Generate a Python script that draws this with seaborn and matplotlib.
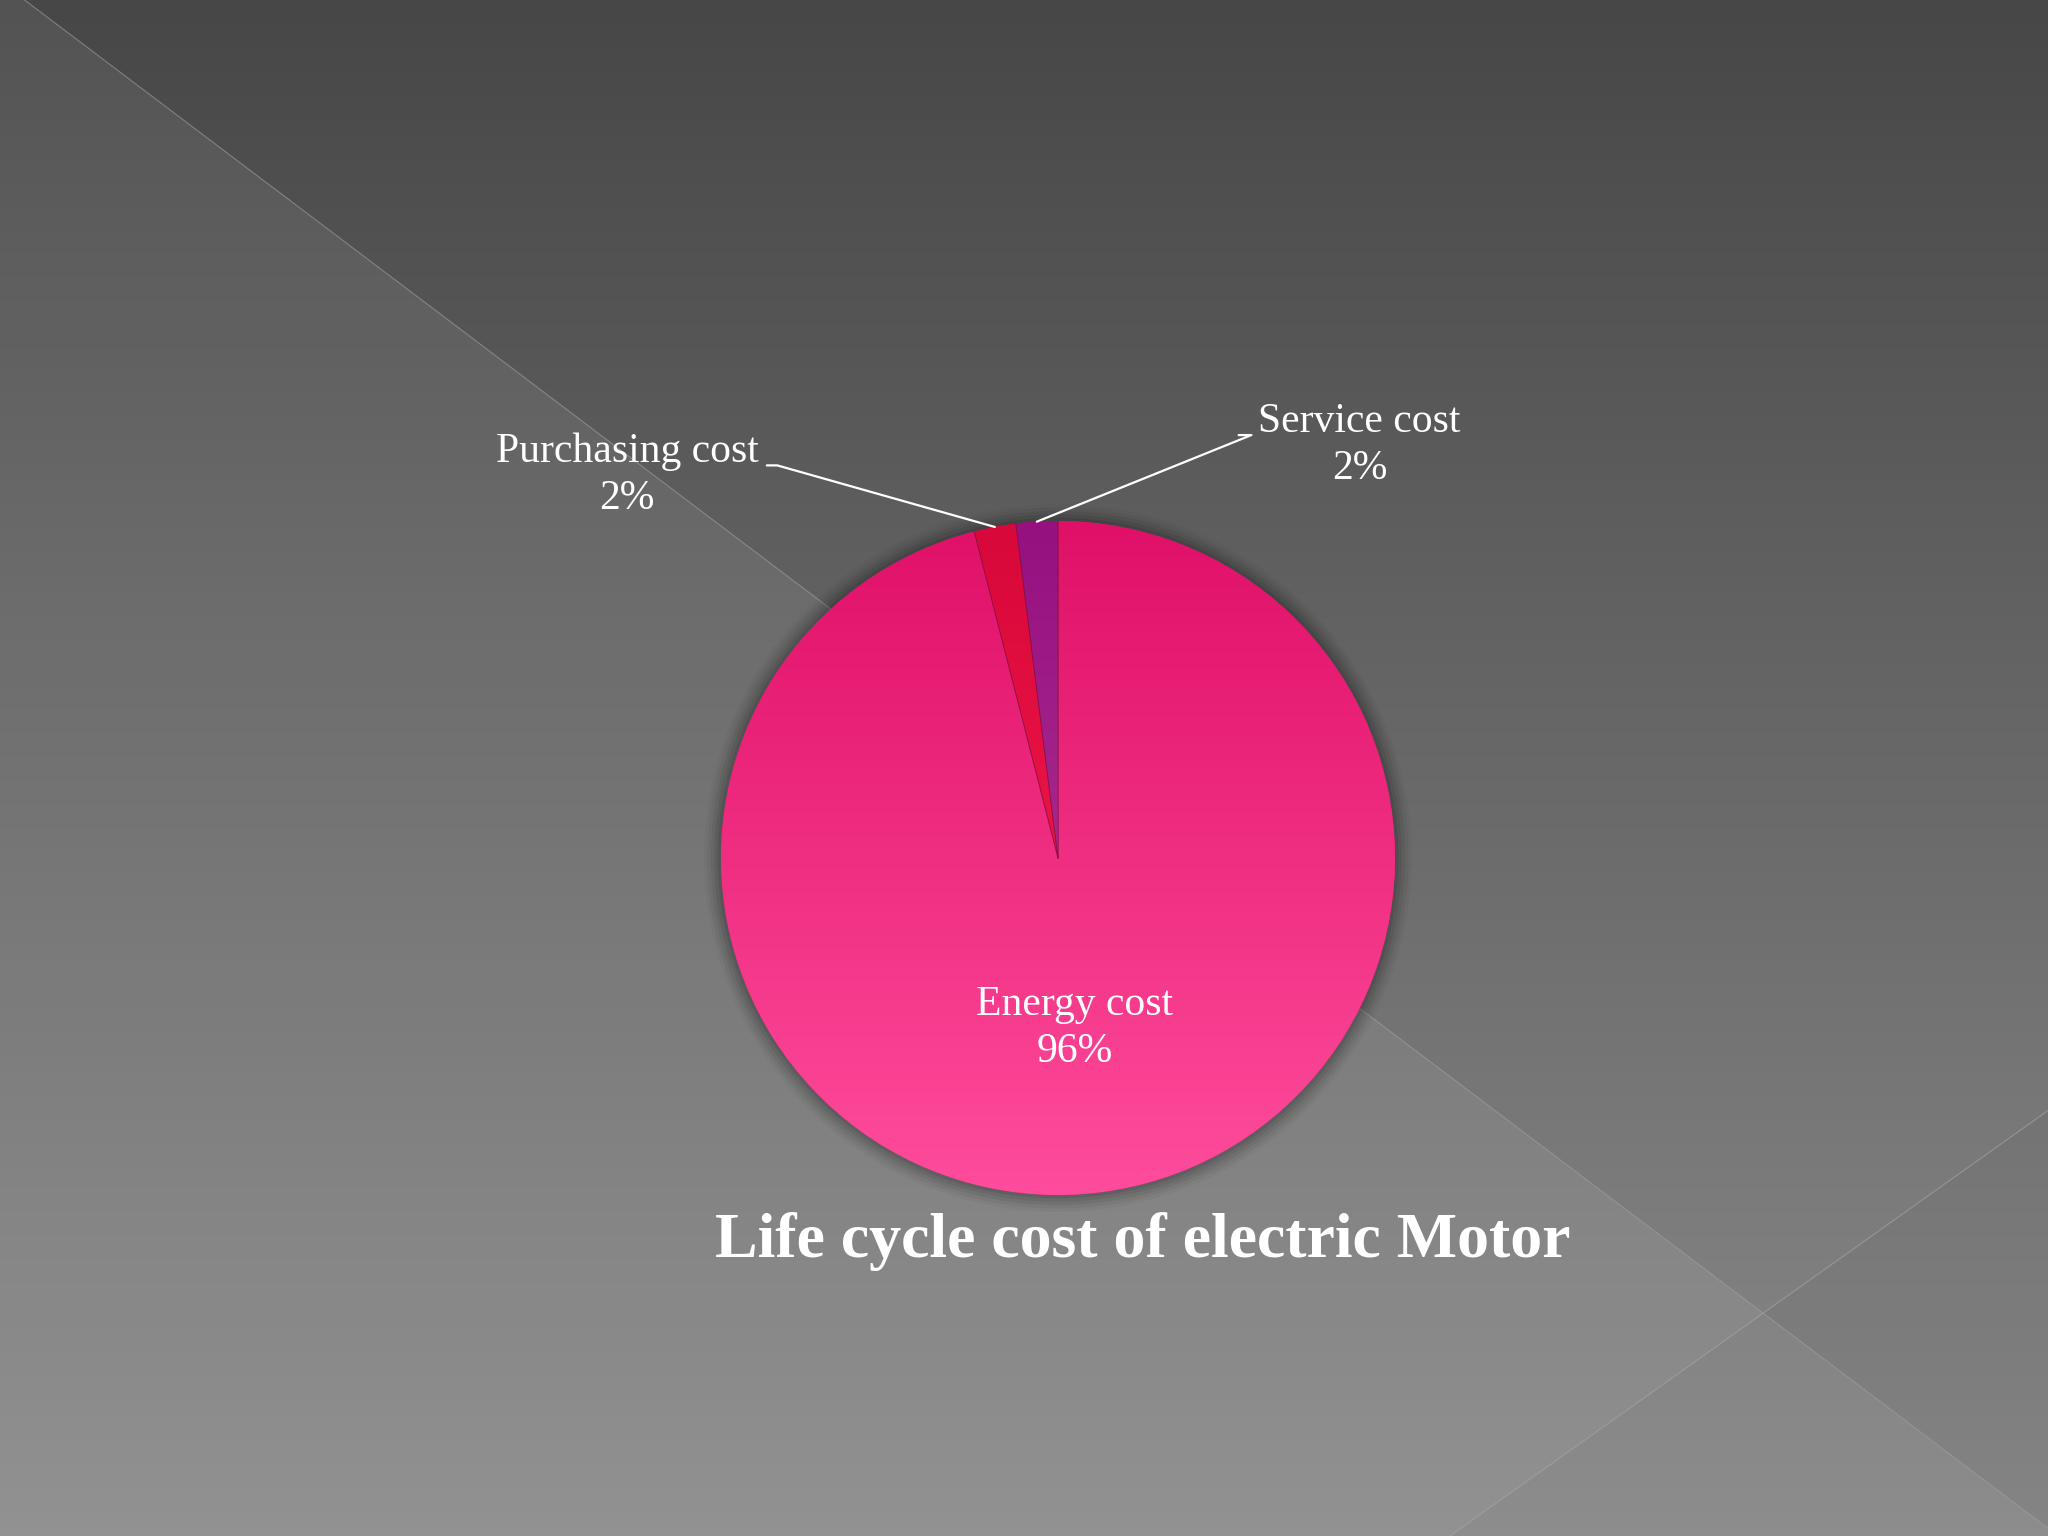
import numpy as np
import matplotlib
matplotlib.use("Agg")
import matplotlib.pyplot as plt
import seaborn as sns
from matplotlib.patches import Polygon, Circle
from matplotlib.colors import LinearSegmentedColormap

# ============================================================
# DATA
# ============================================================
categories = ["Energy cost", "Purchasing cost", "Service cost"]
shares = [96, 2, 2]
pct_labels = ["96%", "2%", "2%"]
title = "Life cycle cost of electric Motor"

slice_colors = ["#EC2276", "#DC0C3C", "#9C1682"]

# ============================================================
# STYLE
# ============================================================
sns.set_theme(style="white")
plt.rcParams["font.family"] = ["Liberation Serif", "DejaVu Serif"]

W, H = 2048, 1536
fig = plt.figure(figsize=(W / 100, H / 100), dpi=100)

# ============================================================
# BACKGROUND (slide gradient + diagonal panes)
# ============================================================
bg = fig.add_axes([0, 0, 1, 1])
bg.set_xlim(0, 1)
bg.set_ylim(0, 1)
bg.axis("off")

grad = np.linspace(0, 1, 256).reshape(-1, 1)
bg_cmap = LinearSegmentedColormap.from_list("bg", ["#8a8a8a", "#474747"])
bg.imshow(grad, extent=(0, 1, 0, 1), origin="lower", cmap=bg_cmap,
          aspect="auto", zorder=0)

# lighter lower-left pane
bg.add_patch(Polygon([(0, 1), (0.012, 1), (1, 0.005), (1, 0), (0, 0)],
                     closed=True, facecolor="white", alpha=0.07,
                     edgecolor="none", zorder=1))
bg.plot([0.012, 1], [1, 0.005], color="#a0a0a0", lw=0.8, alpha=0.6, zorder=2)

# small lower-right pane
bg.add_patch(Polygon([(0.708, 0), (1, 0.277), (1, 0)], closed=True,
                     facecolor="black", alpha=0.03, edgecolor="none", zorder=1))
bg.plot([0.708, 1], [0, 0.277], color="#a8a8a8", lw=0.8, alpha=0.6, zorder=2)

# ============================================================
# PIE
# ============================================================
cx, cy, r = 1058, 858, 337
ax = fig.add_axes([(cx - r) / W, (H - cy - r) / H, 2 * r / W, 2 * r / H])
ax.axis("off")

# soft shadow around the pie
for k, a in zip(np.linspace(1.05, 1.0, 6), np.linspace(0.03, 0.10, 6)):
    ax.add_patch(Circle((0, 0), k, facecolor="black", alpha=a,
                        edgecolor="none", zorder=0, clip_on=False))

wedges, _ = ax.pie(shares, colors=slice_colors, startangle=90,
                   counterclock=False, radius=1,
                   wedgeprops=dict(edgecolor="none", zorder=1))

# gradient fill on the big wedge
pink = LinearSegmentedColormap.from_list("pink", ["#FF4C9C", "#E01068"])
ymesh = np.linspace(0, 1, 256).reshape(-1, 1) * np.ones((1, 8))
img = ax.imshow(ymesh, extent=(-1, 1, -1, 1), origin="lower", cmap=pink,
                zorder=2, aspect="auto")
img.set_clip_path(wedges[0])

# slight gradient on the small wedges
red_cmap = LinearSegmentedColormap.from_list("red", ["#FF2050", "#D8083A"])
img2 = ax.imshow(ymesh, extent=(-1, 1, -1, 1), origin="lower", cmap=red_cmap,
                 zorder=2, aspect="auto")
img2.set_clip_path(wedges[1])
pur_cmap = LinearSegmentedColormap.from_list("pur", ["#B8409A", "#961080"])
img3 = ax.imshow(ymesh, extent=(-1, 1, -1, 1), origin="lower", cmap=pur_cmap,
                 zorder=2, aspect="auto")
img3.set_clip_path(wedges[2])

# thin dark seams between slices
for wd in wedges:
    for th in (wd.theta1, wd.theta2):
        t = np.deg2rad(th)
        ax.plot([0, np.cos(t)], [0, np.sin(t)], color="#7a1040",
                lw=0.6, alpha=0.5, zorder=3)

ax.set_xlim(-1, 1)
ax.set_ylim(-1, 1)

# ============================================================
# LABELS
# ============================================================
label_font = dict(color="white", fontsize=30, ha="center", va="center",
                  linespacing=1.3, zorder=5)

# inside label for the big slice
ax.text(0.05, -0.505, f"{categories[0]}\n{pct_labels[0]}", **label_font)

# outside labels with leader lines
outside = {1: (-1.279, 1.135, -0.833, -0.864),
           2: (0.895, 1.225, 0.574, 0.536)}
for i, (tx, ty, hx0, hx1) in outside.items():
    ax.text(tx, ty, f"{categories[i]}\n{pct_labels[i]}", **label_font)
    ang = np.deg2rad((wedges[i].theta1 + wedges[i].theta2) / 2)
    px, py = np.cos(ang), np.sin(ang)
    ly = ty + 0.03
    ax.plot([hx1, hx0, px], [ly, ly, py], color="white", lw=1.6,
            clip_on=False, zorder=5)

fig.text(0.558, 0.192, title, color="white", fontsize=46,
         fontweight="bold", ha="center", va="center")

fig.savefig("out.png", dpi=100)
